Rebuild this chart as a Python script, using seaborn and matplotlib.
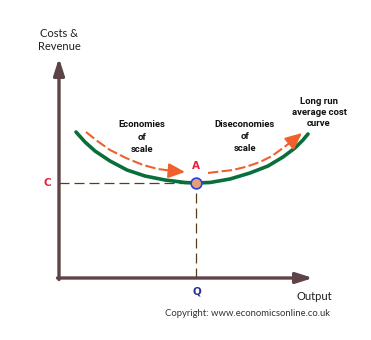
import matplotlib
matplotlib.use("Agg")
import matplotlib.pyplot as plt
import seaborn as sns
import pandas as pd

# ---- data (output units, cost units) ----
lrac_output = [0.68, 1.04, 1.44, 2.04, 2.72, 3.44, 4.24, 5.04, 5.48, 6.04, 6.84, 7.64, 8.36, 8.96, 9.44, 9.76, 9.96]
lrac_cost   = [5.84, 5.44, 5.08, 4.68, 4.32, 4.08, 3.92, 3.82, 3.80, 3.82, 3.96, 4.20, 4.48, 4.84, 5.20, 5.52, 5.76]

eos_output = [1.08, 1.56, 2.04, 2.68, 3.36, 3.96, 4.56, 5.04]
eos_cost   = [5.84, 5.46, 5.12, 4.80, 4.52, 4.36, 4.28, 4.24]

dis_output = [5.96, 6.44, 6.96, 7.52, 8.04, 8.52, 8.96, 9.36, 9.72]
dis_cost   = [4.20, 4.26, 4.32, 4.46, 4.64, 4.88, 5.20, 5.50, 5.80]

point_q = 5.48
point_c = 3.80
axis_top = 8.8
axis_right = 10.16

labels = {
    "y": "Costs &\nRevenue",
    "x": "Output",
    "eos": "Economies\nof\nscale",
    "dis": "Diseconomies\nof\nscale",
    "lrac": "Long run\naverage cost\ncurve",
    "A": "A", "C": "C", "Q": "Q",
    "copy": "Copyright: www.economicsonline.co.uk",
}

sns.set_theme(style="white")
plt.rcParams["font.family"] = ["Lato", "DejaVu Sans"]

fig = plt.figure(figsize=(3.71, 3.40), dpi=100)
ax = fig.add_axes([0, 0, 1, 1])
ax.set_xlim(-59 / 25, 312 / 25)
ax.set_ylim(-62 / 25, 278 / 25)
ax.axis("off")

axis_col = "#5e4347"
green = "#0a6e3c"
orange = "#f0602c"
dash_col = "#5a3c1e"

# axes arrows
ax.annotate("", xy=(0, axis_top), xytext=(0, -0.06),
            arrowprops=dict(arrowstyle="-|>,head_length=1.0,head_width=0.32", mutation_scale=10,
                            color=axis_col, lw=2.4, shrinkA=0, shrinkB=0))
ax.annotate("", xy=(axis_right, 0), xytext=(-0.06, 0),
            arrowprops=dict(arrowstyle="-|>,head_length=1.0,head_width=0.32", mutation_scale=10,
                            color=axis_col, lw=2.4, shrinkA=0, shrinkB=0))

# dashed guides
ax.plot([0, point_q], [point_c, point_c], color=dash_col, lw=0.9, dashes=(8, 4))
ax.plot([point_q, point_q], [0, point_c], color=dash_col, lw=0.9, dashes=(8, 4))

# LRAC curve
df = pd.DataFrame({"q": lrac_output, "c": lrac_cost})
sns.lineplot(data=df, x="q", y="c", ax=ax, sort=False, estimator=None,
             color=green, lw=2.6)

# orange dashed arrows
for xs, ys in [(eos_output, eos_cost), (dis_output, dis_cost)]:
    d = pd.DataFrame({"q": xs[:-1], "c": ys[:-1]})
    sns.lineplot(data=d, x="q", y="c", ax=ax, sort=False, estimator=None,
                 color=orange, lw=1.5, dashes=False, linestyle=(0, (5, 1.6)))
    ax.annotate("", xy=(xs[-1], ys[-1]), xytext=(xs[-2], ys[-2]),
                arrowprops=dict(arrowstyle="-|>,head_length=1.0,head_width=0.45", mutation_scale=10,
                                color=orange, lw=1.5, shrinkA=0, shrinkB=0))

# point A
ax.scatter([point_q], [point_c], s=60, color="#e5a173", edgecolor="#2c3ee8", linewidth=1.2, zorder=5)

ax.set_xlabel("")
ax.set_ylabel("")

txt = "#1e1e1e"
cond = ["Roboto", "DejaVu Sans"]
bold = ["DejaVu Sans"]
ax.text(0, 9.52, labels["y"], ha="center", va="center", fontsize=8, color=txt, linespacing=1.3)
ax.text(10.2, -0.72, labels["x"], ha="center", va="center", fontsize=8, color=txt)
ax.text(3.32, 5.64, labels["eos"], ha="center", va="center", fontsize=6.8, fontweight="bold",
        family=cond, color="#111111", linespacing=1.45)
ax.text(7.44, 5.66, labels["dis"], ha="center", va="center", fontsize=6.8, fontweight="bold",
        family=cond, color="#111111", linespacing=1.45)
ax.text(10.4, 6.62, labels["lrac"], ha="center", va="center", fontsize=6.8, fontweight="bold",
        family=cond, color="#111111", linespacing=1.3)
ax.text(5.48, 4.48, labels["A"], ha="center", va="center", fontsize=7.5, fontweight="bold",
        family=bold, color="#e8203c")
ax.text(-0.48, 3.8, labels["C"], ha="center", va="center", fontsize=7.5, fontweight="bold",
        family=bold, color="#e8203c")
ax.text(5.52, -0.56, labels["Q"], ha="center", va="center", fontsize=7.5, fontweight="bold",
        family=bold, color="#2a2e8c")
ax.text(7.56, -1.4, labels["copy"], ha="center", va="center", fontsize=6.8, color="#333333")

fig.savefig("out.png", dpi=100)
